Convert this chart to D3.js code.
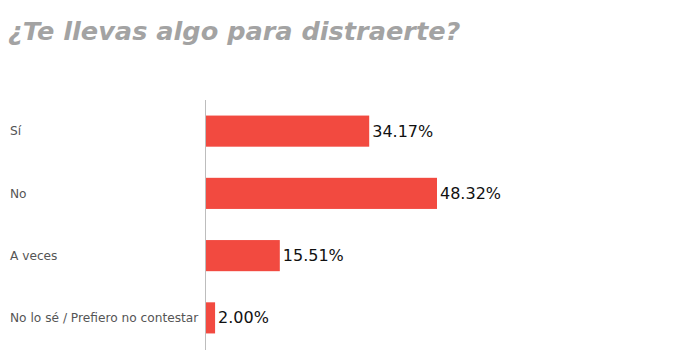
<!DOCTYPE html>
<html><head><meta charset="utf-8">
<script src="https://cdn.jsdelivr.net/npm/d3@7"></script>
<style>body{margin:0;background:#fff}</style>
</head><body>
<script>
const title = "¿Te llevas algo para distraerte?";
const categories = ["Sí", "No", "A veces", "No lo sé / Prefiero no contestar"];
const values = [34.17, 48.32, 15.51, 2.00];
const valueLabels = ["34.17%", "48.32%", "15.51%", "2.00%"];

const W = 699, H = 361;
const svg = d3.select("body").append("svg").attr("width", W).attr("height", H);

svg.append("text").attr("x", 8).attr("y", 40)
  .attr("font-family", "DejaVu Sans").attr("font-weight", "bold").attr("font-style", "italic")
  .attr("font-size", 25.6).attr("fill", "#a3a3a3").text(title);

const x0 = 205.5;
const x = d3.scaleLinear().domain([0, 48.32]).range([x0, 437]);
const y = d3.scaleBand().domain(categories).range([100, 349]).paddingInner(0.5).paddingOuter(0.25);

svg.selectAll("rect.bar").data(values).join("rect").attr("class", "bar")
  .attr("x", x(0)).attr("y", (d, i) => y(categories[i]))
  .attr("width", d => x(d) - x(0)).attr("height", y.bandwidth())
  .attr("fill", "#f24a40");

svg.append("line").attr("x1", x0).attr("x2", x0).attr("y1", 100).attr("y2", 350)
  .attr("stroke", "#bdbdbd").attr("stroke-width", 1);

svg.selectAll("text.cat").data(categories).join("text").attr("class", "cat")
  .attr("x", 10).attr("y", d => y(d) + y.bandwidth() / 2).attr("dy", "0.35em")
  .attr("font-family", "DejaVu Sans").attr("font-size", 12.2).attr("fill", "#555").text(d => d);

svg.selectAll("text.val").data(values).join("text").attr("class", "val")
  .attr("x", d => x(d) + 3).attr("y", (d, i) => y(categories[i]) + y.bandwidth() / 2).attr("dy", "0.35em")
  .attr("font-family", "DejaVu Sans").attr("font-size", 16).attr("fill", "#111").text((d, i) => valueLabels[i]);
</script>
</body></html>
